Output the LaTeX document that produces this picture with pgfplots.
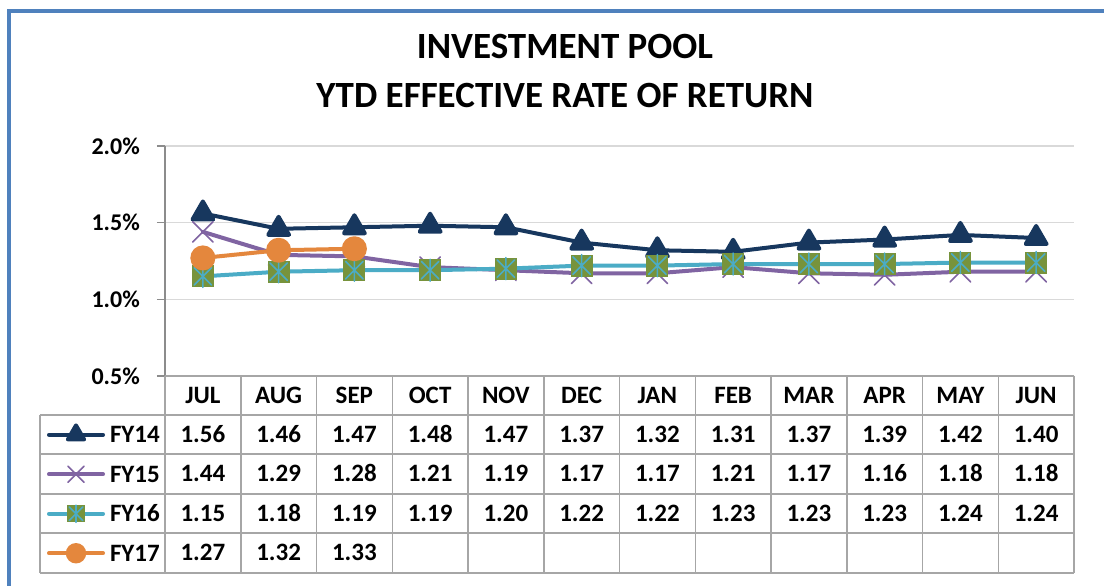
\documentclass[border=0pt]{standalone}
\usepackage{fontspec}
\setmainfont{Carlito}
\usepackage{pgfplots}
\pgfplotsset{compat=1.18}
\definecolor{navy}{HTML}{17375E}
\definecolor{fypurple}{HTML}{8064A2}
\definecolor{fyteal}{HTML}{4BACC6}
\definecolor{fygreen}{HTML}{77933C}
\definecolor{fyorange}{HTML}{E4873D}
\definecolor{borderblue}{HTML}{4F81BD}
\definecolor{gridgrey}{HTML}{D9D9D9}
\definecolor{axisgrey}{HTML}{8C8C8C}
\definecolor{tablegrey}{HTML}{A6A6A6}
\pgfdeclareplotmark{sqstar}{%
  \pgfpathrectangle{\pgfqpoint{-\pgfplotmarksize}{-\pgfplotmarksize}}{\pgfqpoint{2\pgfplotmarksize}{2\pgfplotmarksize}}%
  \pgfsetfillcolor{fygreen}\pgfusepath{fill}%
  \pgfsetstrokecolor{fyteal}\pgfsetlinewidth{1.6pt}%
  \pgfpathmoveto{\pgfqpoint{-.8\pgfplotmarksize}{-.8\pgfplotmarksize}}\pgfpathlineto{\pgfqpoint{.8\pgfplotmarksize}{.8\pgfplotmarksize}}%
  \pgfpathmoveto{\pgfqpoint{-.8\pgfplotmarksize}{.8\pgfplotmarksize}}\pgfpathlineto{\pgfqpoint{.8\pgfplotmarksize}{-.8\pgfplotmarksize}}%
  \pgfpathmoveto{\pgfqpoint{0pt}{-\pgfplotmarksize}}\pgfpathlineto{\pgfqpoint{0pt}{\pgfplotmarksize}}%
  \pgfusepath{stroke}%
}
\begin{document}
\begin{tikzpicture}[x=1pt,y=1pt]
\useasboundingbox (0,0) rectangle (1104,586);
\fill[white] (0,0) rectangle (1104,586);
% outer border (cropped)
\draw[borderblue, line width=4pt] (8.5,0) -- (8.5,574.8) -- (1110,574.8);
% title
\node[anchor=base, font=\bfseries\fontsize{37}{44}\selectfont] at (565,527.7) {INVESTMENT POOL};
\node[anchor=base, font=\bfseries\fontsize{37}{44}\selectfont] at (565,478) {YTD EFFECTIVE RATE OF RETURN};
\begin{axis}[
  at={(165pt,210pt)}, anchor=south west,
  scale only axis, width=909pt, height=230pt,
  xmin=0, xmax=12, ymin=0.5, ymax=2.0,
  axis x line=none, axis y line*=left,
  y axis line style={axisgrey, line width=1.5pt},
  ytick={0.5,1.0,1.5,2.0},
  yticklabels={0.5\%,1.0\%,1.5\%,2.0\%},
  xtick=\empty,
  tick align=outside, major tick length=8pt,
  ytick style={axisgrey, line width=1.5pt},
  yticklabel style={font=\bfseries\fontsize{24}{28}\selectfont, anchor=east, inner sep=0pt, xshift=-17pt},
  ymajorgrids, major grid style={gridgrey, line width=1.5pt},
  legend cell align=left,
  legend style={at={(-0.12981,-0.169565)}, anchor=north west, draw=none, fill=none,
    inner sep=0pt, outer sep=0pt, row sep=0pt, column sep=5pt,
    font=\bfseries\fontsize{25}{28}\selectfont,
    nodes={inner sep=0pt, text height=27.75pt, text depth=11.75pt}},
  legend image code/.code={\draw[mark repeat=2,mark phase=2,every mark/.append style={scale=0.78}] plot coordinates {(0pt,0pt) (27pt,0pt) (54pt,0pt)};},
  every axis plot/.append style={line width=4pt, line cap=round, line join=round},
]
\addplot[navy, mark=triangle*, mark size=12pt, mark options={solid}] coordinates {
(0.5,1.56) (1.5,1.46) (2.5,1.47) (3.5,1.48) (4.5,1.47) (5.5,1.37)
(6.5,1.32) (7.5,1.31) (8.5,1.37) (9.5,1.39) (10.5,1.42) (11.5,1.40)};
\addlegendentry{FY14}
\addplot[fypurple, mark=x, mark size=14.5pt, mark options={solid, line width=1.6pt}] coordinates {
(0.5,1.44) (1.5,1.29) (2.5,1.28) (3.5,1.21) (4.5,1.19) (5.5,1.17)
(6.5,1.17) (7.5,1.21) (8.5,1.17) (9.5,1.16) (10.5,1.18) (11.5,1.18)};
\addlegendentry{FY15}
\addplot[fyteal, mark=sqstar, mark size=11pt, mark options={solid}] coordinates {
(0.5,1.15) (1.5,1.18) (2.5,1.19) (3.5,1.19) (4.5,1.20) (5.5,1.22)
(6.5,1.22) (7.5,1.23) (8.5,1.23) (9.5,1.23) (10.5,1.24) (11.5,1.24)};
\addlegendentry{FY16}
\addplot[fyorange, mark=*, mark size=10.5pt, mark options={solid, fill=fyorange}] coordinates {
(0.5,1.27) (1.5,1.32) (2.5,1.33)};
\addlegendentry{FY17}
\end{axis}
% data table grid
\begin{scope}[tablegrey, line width=1.5pt]
\draw (165,210) -- (1074,210);
\draw (40,171) -- (1074,171);
\draw (40,132) -- (1074,132);
\draw (40,92) -- (1074,92);
\draw (40,53) -- (1074,53);
\draw (40,13) -- (1074,13);
\draw (40,171) -- (40,13);
\foreach \k in {0,...,12} {\draw ({165+\k*75.75},210) -- ({165+\k*75.75},13);}
\end{scope}
\begin{scope}[every node/.style={anchor=base, inner sep=0pt, font=\bfseries\fontsize{25}{28}\selectfont}]
\foreach \m [count=\i] in {JUL,AUG,SEP,OCT,NOV,DEC,JAN,FEB,MAR,APR,MAY,JUN}
  {\node at ({165+(\i-0.5)*75.75},182.5) {\m};}
\foreach \v [count=\i] in {1.56,1.46,1.47,1.48,1.47,1.37,1.32,1.31,1.37,1.39,1.42,1.40}
  {\node at ({165+(\i-0.5)*75.75},143.5) {\v};}
\foreach \v [count=\i] in {1.44,1.29,1.28,1.21,1.19,1.17,1.17,1.21,1.17,1.16,1.18,1.18}
  {\node at ({165+(\i-0.5)*75.75},104) {\v};}
\foreach \v [count=\i] in {1.15,1.18,1.19,1.19,1.20,1.22,1.22,1.23,1.23,1.23,1.24,1.24}
  {\node at ({165+(\i-0.5)*75.75},64.5) {\v};}
\foreach \v [count=\i] in {1.27,1.32,1.33}
  {\node at ({165+(\i-0.5)*75.75},25) {\v};}
\end{scope}
\end{tikzpicture}
\end{document}
